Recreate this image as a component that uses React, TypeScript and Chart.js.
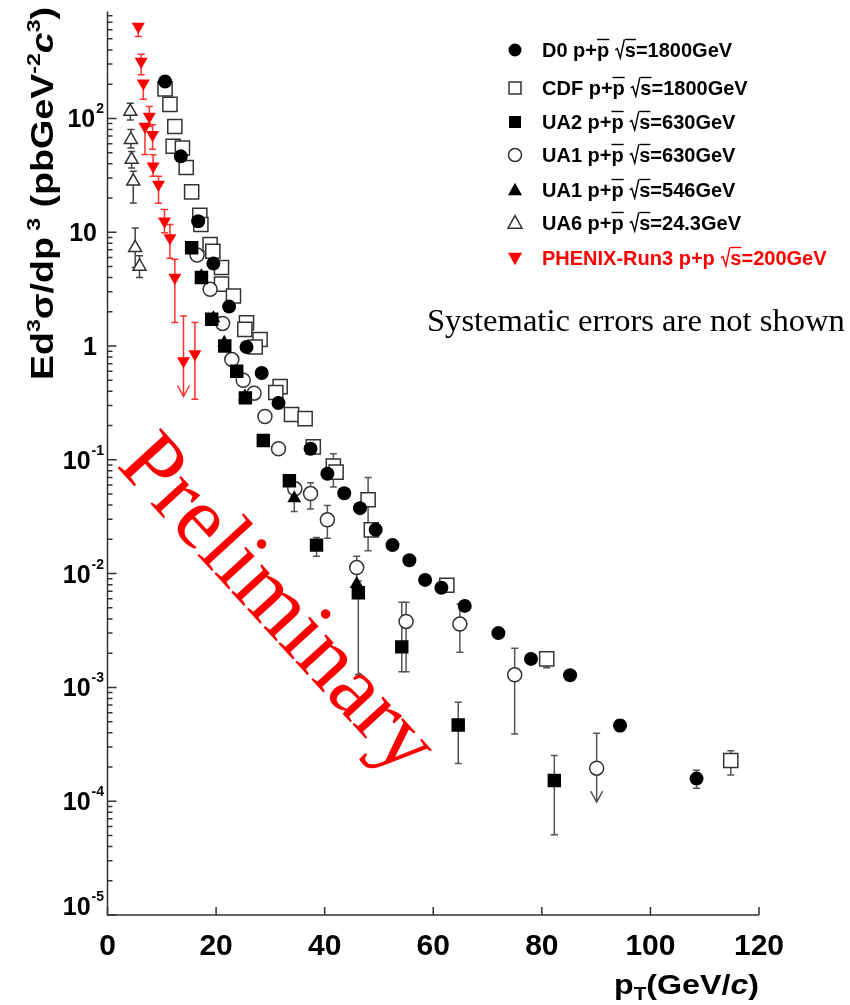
import React, { useEffect, useRef } from 'react';
import { Chart, registerables } from 'chart.js';

Chart.register(...registerables);

// ---------------- data (pT in GeV/c, Ed3sigma/dp3 in pb GeV^-2 c^3) ----------------
const d0Pt = [10.6, 13.5, 16.7, 19.5, 22.4, 25.6, 28.4, 31.5, 37.4, 40.5, 43.6, 46.5, 49.4, 52.5, 55.6, 58.5, 61.5, 65.8, 72.0, 78.0, 85.2, 94.4, 108.5];
const d0Val = [211, 46.4, 12.5, 5.3, 2.22, 0.98, 0.58, 0.316, 0.125, 0.0755, 0.0508, 0.0376, 0.0243, 0.0178, 0.0131, 0.0088, 0.0075, 0.0052, 0.003, 0.00178, 0.00128, 0.000463, 0.000158];
const d0Lo = [null, null, null, null, null, null, null, null, null, null, null, null, null, null, null, null, null, null, null, null, null, 0.00041, 0.00013];
const d0Hi = [null, null, null, null, null, null, null, null, null, null, null, null, null, null, null, null, null, null, null, null, null, 0.00052, 0.000187];

const cdfPt = [10.6, 11.5, 12.4, 12.1, 13.8, 14.5, 15.5, 17.0, 17.2, 18.9, 19.4, 21.0, 21.0, 23.2, 25.6, 25.3, 28.1, 27.2, 31.8, 31.0, 33.9, 36.4, 37.9, 41.6, 42.1, 48.0, 48.6, 62.5, 80.9, 114.8];
const cdfVal = [182, 133, 85, 57, 55, 37, 22.6, 14.1, 11.7, 7.8, 6.8, 4.9, 3.5, 2.75, 1.6, 1.4, 1.14, 0.98, 0.44, 0.39, 0.25, 0.23, 0.13, 0.088, 0.078, 0.0446, 0.0242, 0.0079, 0.00178, 0.000228];
const cdfLo = [null, null, null, null, null, null, null, null, null, null, null, null, null, null, null, null, null, null, null, null, null, null, null, 0.0577, null, 0.0159, null, null, 0.00149, 0.00017];
const cdfHi = [null, null, null, null, null, null, null, null, null, null, null, null, null, null, null, null, null, null, null, null, null, null, null, 0.113, null, 0.0698, null, null, 0.00205, 0.000278];

const ua2Pt = [15.5, 17.3, 19.2, 21.6, 23.8, 25.4, 28.7, 33.5, 38.5, 46.2, 54.2, 64.6, 82.3];
const ua2Val = [7.3, 4.0, 1.72, 1.0, 0.6, 0.35, 0.148, 0.0655, 0.0178, 0.0068, 0.00227, 0.000467, 0.000152];
const ua2Lo = [null, null, null, null, null, null, null, null, 0.0142, 0.0013, 0.00137, 0.000214, 0.0000508];
const ua2Hi = [null, null, null, null, null, null, null, null, 0.0208, 0.0086, 0.00561, 0.00074, 0.000252];

const ua1aPt = [16.5, 18.9, 21.2, 22.9, 25.0, 27.0, 29.0, 31.5, 34.5, 37.4, 40.5, 45.9, 55.0, 64.9, 75.0, 90.1];
const ua1aVal = [6.3, 3.15, 1.58, 0.76, 0.5, 0.385, 0.24, 0.125, 0.0556, 0.0505, 0.0297, 0.0113, 0.0038, 0.0036, 0.00129, 0.000195];
const ua1aLo = [null, null, null, null, null, null, null, null, null, 0.0369, 0.0205, 0.0077, 0.00137, 0.00204, 0.00039, 0.000098];
const ua1aHi = [null, null, null, null, null, null, null, null, null, 0.0628, 0.0397, 0.0142, 0.0056, 0.0054, 0.00221, 0.000396];
const ua1aLimit = [0, 0, 0, 0, 0, 0, 0, 0, 0, 0, 0, 0, 0, 0, 0, 1];

const ua1bPt = [17.3, 19.5, 21.5, 25.3, 34.4, 45.9];
const ua1bVal = [4.1, 1.75, 1.07, 0.36, 0.046, 0.0081];
const ua1bLo = [null, null, null, null, 0.0352, null];
const ua1bHi = [null, null, null, null, 0.0615, null];

const ua6Pt = [4.2, 4.3, 4.45, 4.75, 5.1, 5.9];
const ua6Val = [115, 65, 43.5, 28, 7.3, 5.0];
const ua6Lo = [97, 55, 36.6, 18.1, 4.9, 4.0];
const ua6Hi = [136, 80, 51.3, 34.3, 10.9, 6.2];

const phxPt = [5.67, 6.2, 6.6, 7.7, 6.9, 8.3, 8.4, 9.4, 10.5, 11.5, 12.4, 14.0, 16.1];
const phxVal = [641, 316, 204, 104, 85, 72, 38, 26.2, 12.5, 8.9, 3.99, 0.74, 0.85];
const phxLo = [524, 242, 147, 85, 48.3, 53.5, 31, 18, 9.9, 5.9, 1.61, 0.36, 0.34];
const phxHi = [null, 366, null, 127, null, 88, 48, 31, 15.8, 11.7, 5.8, 1.84, 1.61];
const phxLimit = [0, 0, 0, 0, 0, 0, 0, 0, 0, 0, 0, 1, 0];

const legendExp = ['D0', 'CDF', 'UA2', 'UA1', 'UA1', 'UA6', 'PHENIX-Run3'];
const legendAnti = [true, true, true, true, true, true, false];
const legendEnergy = ['1800GeV', '1800GeV', '630GeV', '630GeV', '546GeV', '24.3GeV', '200GeV'];

const xTickValues = [0, 20, 40, 60, 80, 100, 120];
const yDecades = [2, 1, 0, -1, -2, -3, -4, -5];
const X_MIN = 0, X_MAX = 120, Y_MIN = 1e-5, Y_MAX = 870;

// ---------------- styles ----------------
const SANS = '"Liberation Sans", Arial, Helvetica, sans-serif';
const SERIF = '"Liberation Serif", "Times New Roman", serif';
const RED = '#ff0000';

type Sty = { kind: string; filled: boolean; color: string; err: string; r: number; rot: number };
const series: { pt: number[]; val: number[]; lo: (number | null)[]; hi: (number | null)[]; lim?: number[]; s: Sty }[] = [
  { pt: d0Pt, val: d0Val, lo: d0Lo, hi: d0Hi, s: { kind: 'circle', filled: true, color: '#000', err: '#555', r: 7, rot: 0 } },
  { pt: ua2Pt, val: ua2Val, lo: ua2Lo, hi: ua2Hi, s: { kind: 'rect', filled: true, color: '#000', err: '#555', r: 9.5, rot: 0 } },
  { pt: ua1bPt, val: ua1bVal, lo: ua1bLo, hi: ua1bHi, s: { kind: 'triangle', filled: true, color: '#000', err: '#555', r: 8, rot: 0 } },
  { pt: ua1aPt, val: ua1aVal, lo: ua1aLo, hi: ua1aHi, lim: ua1aLimit, s: { kind: 'circle', filled: false, color: '#333', err: '#555', r: 7, rot: 0 } },
  { pt: cdfPt, val: cdfVal, lo: cdfLo, hi: cdfHi, s: { kind: 'rect', filled: false, color: '#333', err: '#555', r: 10, rot: 0 } },
  { pt: ua6Pt, val: ua6Val, lo: ua6Lo, hi: ua6Hi, s: { kind: 'triangle', filled: false, color: '#333', err: '#444', r: 7.5, rot: 0 } },
  { pt: phxPt, val: phxVal, lo: phxLo, hi: phxHi, lim: phxLimit, s: { kind: 'triangle', filled: true, color: RED, err: '#ff3030', r: 7.5, rot: 180 } },
];
const legendOrder = [0, 4, 1, 3, 2, 5, 6];

function drawMarker(ctx: CanvasRenderingContext2D, st: Sty, x: number, y: number, size: number) {
  ctx.save();
  ctx.beginPath();
  if (st.kind === 'circle') ctx.arc(x, y, size, 0, Math.PI * 2);
  else if (st.kind === 'rect') ctx.rect(x - size, y - size, 2 * size, 2 * size);
  else {
    const d = st.rot === 180 ? -1 : 1;
    ctx.moveTo(x, y - d * size * 1.05);
    ctx.lineTo(x + size, y + d * size * 0.75);
    ctx.lineTo(x - size, y + d * size * 0.75);
    ctx.closePath();
  }
  if (st.filled) { ctx.fillStyle = st.color; ctx.fill(); }
  else { ctx.fillStyle = '#fff'; ctx.fill(); ctx.strokeStyle = st.color; ctx.lineWidth = 1.5; ctx.stroke(); }
  ctx.restore();
}

const overlay = {
  id: 'overlay',
  beforeDatasetsDraw(chart: any) {
    const ctx: CanvasRenderingContext2D = chart.ctx;
    const xs = chart.scales.x, ys = chart.scales.y;
    // Preliminary watermark
    ctx.save();
    ctx.fillStyle = RED;
    let fs = 90;
    ctx.font = `${fs}px ${SERIF}`;
    const w = ctx.measureText('Preliminary').width;
    fs = fs * 424 / w;
    ctx.font = `${fs}px ${SERIF}`;
    ctx.translate(276, 606);
    ctx.rotate((47.5 * Math.PI) / 180);
    ctx.textAlign = 'center';
    ctx.textBaseline = 'middle';
    ctx.fillText('Preliminary', 0, 0);
    ctx.restore();

    // error bars
    ctx.save();
    ctx.lineWidth = 1.5;
    for (const se of series) {
      ctx.strokeStyle = se.s.err;
      se.pt.forEach((p, i) => {
        const lo = se.lo[i], hi = se.hi[i];
        if (lo == null && hi == null) return;
        const px = xs.getPixelForValue(p);
        const py = ys.getPixelForValue(se.val[i]);
        const pl = lo != null ? ys.getPixelForValue(lo) : py;
        const ph = hi != null ? ys.getPixelForValue(hi) : py;
        ctx.beginPath();
        ctx.moveTo(px, ph); ctx.lineTo(px, pl);
        const lim = se.lim && se.lim[i];
        if (hi != null) { ctx.moveTo(px - 3.5, ph); ctx.lineTo(px + 3.5, ph); }
        if (lo != null) {
          if (lim) { ctx.moveTo(px - 6, pl - 11); ctx.lineTo(px, pl); ctx.lineTo(px + 6, pl - 11); }
          else { ctx.moveTo(px - 3.5, pl); ctx.lineTo(px + 3.5, pl); }
        }
        ctx.stroke();
      });
    }
    ctx.restore();
  },
  afterDraw(chart: any) {
    const ctx: CanvasRenderingContext2D = chart.ctx;
    const xs = chart.scales.x, ys = chart.scales.y;
    const a = chart.chartArea;
    ctx.save();
    ctx.strokeStyle = '#333';
    ctx.lineWidth = 1.5;
    ctx.beginPath();
    ctx.moveTo(a.left, a.top); ctx.lineTo(a.left, a.bottom); ctx.lineTo(a.right, a.bottom);
    ctx.stroke();
    // x ticks
    ctx.beginPath();
    for (const t of xTickValues) {
      const px = xs.getPixelForValue(t);
      ctx.moveTo(px, a.bottom); ctx.lineTo(px, a.bottom - 8);
    }
    // y ticks
    for (let e = -5; e <= 2; e++) {
      for (let m = 1; m <= 9; m++) {
        const v = m * Math.pow(10, e);
        if (v > Y_MAX) continue;
        const py = ys.getPixelForValue(v);
        ctx.moveTo(a.left, py); ctx.lineTo(a.left + (m === 1 ? 9 : 5), py);
      }
    }
    ctx.stroke();

    // x tick labels
    ctx.fillStyle = '#000';
    ctx.font = `bold 30px ${SANS}`;
    ctx.textAlign = 'center';
    ctx.textBaseline = 'alphabetic';
    for (const t of xTickValues) ctx.fillText(String(t), xs.getPixelForValue(t), 955);

    // y tick labels
    for (const e of yDecades) {
      let py = ys.getPixelForValue(Math.pow(10, e));
      py = Math.min(py, a.bottom - 9);
      const base = e === 0 ? '1' : '10';
      const sup = e === 0 || e === 1 ? '' : String(e);
      ctx.font = `bold 14px ${SANS}`;
      const sw = sup ? ctx.measureText(sup).width : 0;
      ctx.font = `bold 25px ${SANS}`;
      ctx.textAlign = 'right';
      const right = sup ? 104 - sw - 1 : 97;
      ctx.fillText(base, right, py + 9);
      if (sup) {
        ctx.font = `bold 14px ${SANS}`;
        ctx.textAlign = 'left';
        ctx.fillText(sup, right + 1, py - 5);
      }
    }

    // y axis title (rotated)
    const ySegs: [string, boolean, boolean][] = [
      ['Ed', false, false], ['3', true, false], ['σ/dp', false, false], [' 3', true, false],
      [' (pbGeV', false, false], ['-2', true, false], ['c', false, true], ['3', true, false], [')', false, false],
    ];
    const mainF = 31, supF = 19;
    const fontFor = (sup: boolean, it: boolean) => `${it ? 'italic ' : ''}bold ${sup ? supF : mainF}px ${SANS}`;
    let tot = 0;
    for (const [t, s, it] of ySegs) { ctx.font = fontFor(s, it); tot += ctx.measureText(t).width; }
    ctx.save();
    ctx.translate(53, 380);
    ctx.rotate(-Math.PI / 2);
    ctx.scale(373 / tot, 1);
    ctx.textAlign = 'left';
    let cx = 0;
    for (const [t, s, it] of ySegs) {
      ctx.font = fontFor(s, it);
      ctx.fillText(t, cx, s ? -13 : 0);
      cx += ctx.measureText(t).width;
    }
    ctx.restore();

    // x axis title
    const xSegs: [string, number, boolean][] = [['p', 0, false], ['T', 1, false], ['(GeV/', 0, false], ['c', 0, true], [')', 0, false]];
    const xF = (sub: number, it: boolean) => `${it ? 'italic ' : ''}bold ${sub ? 18 : 28}px ${SANS}`;
    let xt = 0;
    for (const [t, s, it] of xSegs) { ctx.font = xF(s, it); xt += ctx.measureText(t).width; }
    ctx.save();
    ctx.translate(759 - 145, 994);
    ctx.scale(145 / xt, 1);
    ctx.textAlign = 'left';
    let xx = 0;
    for (const [t, s, it] of xSegs) {
      ctx.font = xF(s, it);
      ctx.fillText(t, xx, s ? 6 : 0);
      xx += ctx.measureText(t).width;
    }
    ctx.restore();

    // legend
    const rowY = [50, 88, 122, 155, 190, 223, 258];
    const LF = `bold 20px ${SANS}`;
    legendOrder.forEach((si, k) => {
      const st = series[si].s;
      const y = rowY[k];
      const msz = st.kind === 'circle' ? 6.5 : st.kind === 'rect' ? 6 : 7;
      drawMarker(ctx, st, 515, y, msz);
      const col = si === 6 ? RED : '#000';
      ctx.fillStyle = col;
      ctx.strokeStyle = col;
      ctx.lineWidth = 1.4;
      ctx.font = LF;
      ctx.textAlign = 'left';
      const base = y + 7;
      let lx = 542;
      const put = (t: string, over: boolean) => {
        ctx.fillText(t, lx, base);
        const w = ctx.measureText(t).width;
        if (over) {
          ctx.beginPath();
          ctx.moveTo(lx, base - 17.5); ctx.lineTo(lx + w, base - 17.5);
          ctx.stroke();
        }
        lx += w;
      };
      put(legendExp[k] + ' p+', false);
      put('p', legendAnti[k]);
      put(' ', false);
      // radical sign drawn as strokes
      ctx.beginPath();
      ctx.moveTo(lx + 0.5, base - 7);
      ctx.lineTo(lx + 2.5, base - 8.5);
      ctx.lineTo(lx + 5.5, base + 1);
      ctx.lineTo(lx + 9.5, base - 17.5);
      ctx.stroke();
      lx += 10;
      put('s', true);
      put('=' + legendEnergy[k], false);
    });

    // note
    ctx.fillStyle = '#000';
    let nf = 30;
    ctx.font = `${nf}px ${SERIF}`;
    const nw = ctx.measureText('Systematic errors are not shown').width;
    nf = nf * 418 / nw;
    ctx.font = `${nf}px ${SERIF}`;
    ctx.textAlign = 'left';
    ctx.fillText('Systematic errors are not shown', 427, 331);
    ctx.restore();
  },
};

export default function App() {
  const ref = useRef<HTMLCanvasElement>(null);
  useEffect(() => {
    document.body.style.margin = '0';
    const chart = new Chart(ref.current as HTMLCanvasElement, {
      type: 'scatter',
      data: {
        datasets: series.map((se) => ({
          data: se.pt.map((p, i) => ({ x: p, y: se.val[i] })),
          pointStyle: se.s.kind as any,
          pointRadius: se.s.r,
          pointRotation: se.s.rot,
          backgroundColor: se.s.filled ? se.s.color : '#ffffff',
          borderColor: se.s.color,
          borderWidth: se.s.filled ? 0 : 1.5,
          showLine: false,
        })),
      },
      options: {
        responsive: false,
        animation: false,
        devicePixelRatio: 1,
        layout: { padding: { left: 107.5, top: 10, right: 91, bottom: 90 } },
        plugins: { legend: { display: false }, tooltip: { enabled: false } },
        scales: {
          x: { type: 'linear', min: X_MIN, max: X_MAX, display: false },
          y: { type: 'logarithmic', min: Y_MIN, max: Y_MAX, display: false },
        },
      } as any,
      plugins: [overlay],
    });
    return () => chart.destroy();
  }, []);
  return (
    <canvas
      ref={ref}
      width={850}
      height={1005}
      style={{ position: 'absolute', left: 0, top: 0, display: 'block', width: 850, height: 1005 }}
    />
  );
}
